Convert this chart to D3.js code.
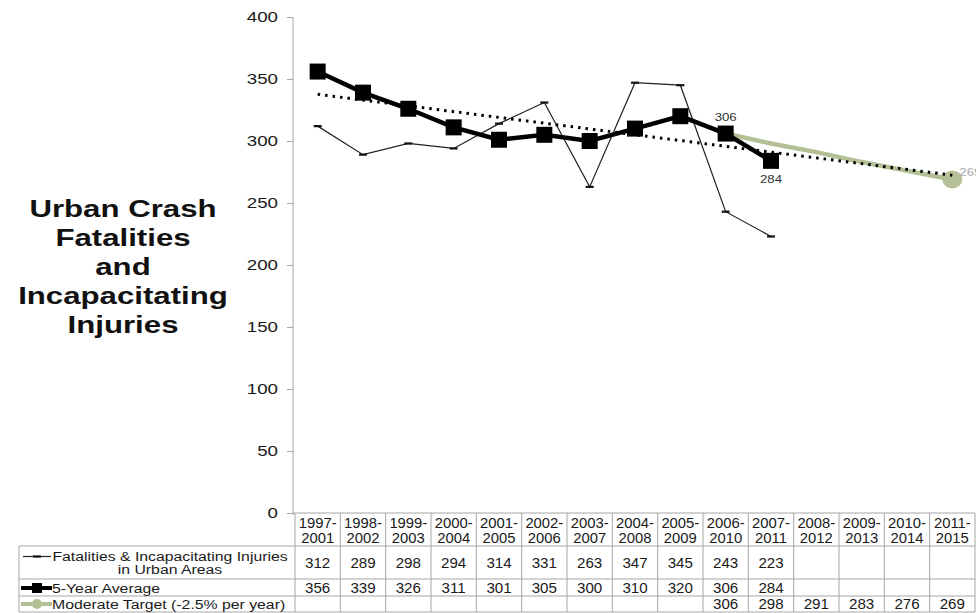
<!DOCTYPE html>
<html>
<head>
<meta charset="utf-8">
<script src="https://cdn.jsdelivr.net/npm/d3@7"></script>
<style>
  html, body { margin: 0; padding: 0; background: #fff; }
  svg { display: block; font-family: "Liberation Sans", Arial, Helvetica, sans-serif; }
</style>
</head>
<body>
<svg id="chart" width="976" height="613"></svg>
<script>
// Five-year periods shown along the bottom of the chart / table header
const periods = ["1997-2001","1998-2002","1999-2003","2000-2004","2001-2005","2002-2006",
  "2003-2007","2004-2008","2005-2009","2006-2010","2007-2011","2008-2012",
  "2009-2013","2010-2014","2011-2015"];

// Fatalities & incapacitating injuries in urban areas (annual counts)
const urbanValues = [312, 289, 298, 294, 314, 331, 263, 347, 345, 243, 223];
// 5-year average
const avgValues = [356, 339, 326, 311, 301, 305, 300, 310, 320, 306, 284];
// Moderate target (-2.5% per year), starting at 2006-2010
const targetStart = 9;
const targetValues = [306, 298, 291, 283, 276, 269];

const yTicks = [0, 50, 100, 150, 200, 250, 300, 350, 400];
const titleLines = ["Urban Crash", "Fatalities", "and", "Incapacitating", "Injuries"];

const svg = d3.select("#chart");

const x = d3.scaleBand().domain(periods).range([295, 975]);
const cx = p => x(p) + x.bandwidth() / 2;
const y = d3.scaleLinear().domain([0, 400]).range([513, 17]);

const green = "#b3bf95";
const gridGrey = "#a6a6a6";

// Text drawn with a slightly wide letterform (horizontal stretch)
function wideText(parent, px, py, str, opts = {}) {
  const sx = opts.sx || 1.1;
  return parent.append("text")
    .attr("transform", `translate(${px},${py}) scale(${sx},1)`)
    .attr("text-anchor", opts.anchor || "middle")
    .attr("font-size", opts.size || 14)
    .attr("font-weight", opts.weight || null)
    .attr("fill", opts.fill || "#1a1a1a")
    .text(str);
}

// Title on the left
titleLines.forEach((line, i) =>
  wideText(svg, 123, 217 + i * 29, line, { size: 24, weight: "bold", sx: 1.3, fill: "#111" }));

// Y axis
const yAxis = svg.append("g").attr("transform", "translate(293,0)")
  .call(d3.axisLeft(y).tickValues(yTicks).tickSize(6).tickFormat(d3.format("d")));
yAxis.select(".domain").attr("stroke", gridGrey).attr("d", "M-6,17.5H0V515");
yAxis.selectAll(".tick line").attr("stroke", gridGrey);
yAxis.selectAll(".tick text")
  .attr("x", -12).attr("transform", "scale(1.25,1)")
  .attr("font-size", 15).attr("fill", "#1a1a1a")
  .attr("font-family", "'Liberation Sans', Arial, sans-serif");

// Linear trend of the 5-year average, extended across all periods
const mx = d3.mean(avgValues, (d, i) => i);
const my = d3.mean(avgValues);
const slope = d3.sum(avgValues, (d, i) => (i - mx) * (d - my)) / d3.sum(avgValues, (d, i) => (i - mx) ** 2);
const trendAt = i => my + slope * (i - mx);
const lastIdx = periods.length - 1;

// Urban values: thin line with dash markers
const lineUrban = d3.line().x((d, i) => cx(periods[i])).y(d => y(d));
svg.append("path").datum(urbanValues)
  .attr("d", lineUrban).attr("fill", "none").attr("stroke", "#222").attr("stroke-width", 1.2);
svg.selectAll(".dash").data(urbanValues).join("line")
  .attr("x1", (d, i) => cx(periods[i]) - 4).attr("x2", (d, i) => cx(periods[i]) + 4)
  .attr("y1", d => y(d)).attr("y2", d => y(d))
  .attr("stroke", "#111").attr("stroke-width", 2.2);

// Target line
const lineTarget = d3.line().x((d, i) => cx(periods[targetStart + i])).y(d => y(d));
svg.append("path").datum(targetValues)
  .attr("d", lineTarget).attr("fill", "none").attr("stroke", green).attr("stroke-width", 4.5);

// 5-year average: thick line with square markers
const lineAvg = d3.line().x((d, i) => cx(periods[i])).y(d => y(d));
svg.append("path").datum(avgValues)
  .attr("d", lineAvg).attr("fill", "none").attr("stroke", "#000").attr("stroke-width", 4.5);
svg.selectAll(".sq").data(avgValues).join("rect")
  .attr("x", (d, i) => cx(periods[i]) - 8).attr("y", d => y(d) - 8)
  .attr("width", 16).attr("height", 16).attr("fill", "#000");

// Target end point marker
svg.append("ellipse")
  .attr("cx", cx(periods[lastIdx])).attr("cy", y(targetValues[targetValues.length - 1]))
  .attr("rx", 10).attr("ry", 9).attr("fill", green).attr("opacity", 0.95);

// Dotted trend line
svg.append("line")
  .attr("x1", cx(periods[0])).attr("y1", y(trendAt(0)))
  .attr("x2", cx(periods[lastIdx])).attr("y2", y(trendAt(lastIdx)))
  .attr("stroke", "#000").attr("stroke-width", 3)
  .attr("stroke-dasharray", "2.5,5");

// Value labels
wideText(svg, cx(periods[9]), y(avgValues[9]) - 13, avgValues[9], { size: 11, sx: 1.2, fill: "#333" });
wideText(svg, cx(periods[10]), y(avgValues[10]) + 22, avgValues[10], { size: 11, sx: 1.2, fill: "#333" });
wideText(svg, cx(periods[lastIdx]) + 7, y(targetValues[targetValues.length - 1]) - 3,
  targetValues[targetValues.length - 1], { size: 11, sx: 1.2, fill: "#aaa", anchor: "start" });

// Data table
const rowY = [513, 546, 579, 596, 612];
const leftX = 19;
const table = svg.append("g");
const tx = table.append("g").attr("stroke", gridGrey).attr("stroke-width", 1);

// horizontal rules
tx.append("line").attr("x1", 293).attr("x2", 975).attr("y1", rowY[0]).attr("y2", rowY[0]);
[1, 2, 3, 4].forEach(r => tx.append("line").attr("x1", leftX).attr("x2", 975).attr("y1", rowY[r]).attr("y2", rowY[r]));
// vertical rules
tx.append("line").attr("x1", leftX).attr("x2", leftX).attr("y1", rowY[1]).attr("y2", rowY[4]);
periods.forEach(p => tx.append("line").attr("x1", x(p)).attr("x2", x(p)).attr("y1", rowY[0]).attr("y2", rowY[4]));
tx.append("line").attr("x1", 975).attr("x2", 975).attr("y1", rowY[0]).attr("y2", rowY[4]);

// header
periods.forEach(p => {
  const [a, b] = p.split("-");
  wideText(table, cx(p), 528, a + "-", { sx: 1.06 });
  wideText(table, cx(p), 543, b, { sx: 1.06 });
});

// row values
urbanValues.forEach((v, i) => wideText(table, cx(periods[i]), 568, v, { sx: 1.08 }));
avgValues.forEach((v, i) => wideText(table, cx(periods[i]), 593, v, { sx: 1.08 }));
targetValues.forEach((v, i) => wideText(table, cx(periods[targetStart + i]), 609, v, { sx: 1.08 }));

// legend labels
wideText(table, 170, 561, "Fatalities & Incapacitating Injuries", { size: 13.5, sx: 1.17 });
wideText(table, 170, 574, "in Urban Areas", { size: 13.5, sx: 1.17 });
wideText(table, 52, 593, "5-Year Average", { size: 13.5, sx: 1.17, anchor: "start" });
wideText(table, 52, 609, "Moderate Target (-2.5% per year)", { size: 13.5, sx: 1.17, anchor: "start" });

// legend keys
table.append("line").attr("x1", 23).attr("x2", 51).attr("y1", 556.5).attr("y2", 556.5)
  .attr("stroke", "#222").attr("stroke-width", 1.2);
table.append("line").attr("x1", 33).attr("x2", 41).attr("y1", 556.5).attr("y2", 556.5)
  .attr("stroke", "#111").attr("stroke-width", 2.2);
table.append("line").attr("x1", 21).attr("x2", 52).attr("y1", 588).attr("y2", 588)
  .attr("stroke", "#000").attr("stroke-width", 4);
table.append("rect").attr("x", 32).attr("y", 583).attr("width", 10).attr("height", 10).attr("fill", "#000");
table.append("line").attr("x1", 21).attr("x2", 52).attr("y1", 604).attr("y2", 604)
  .attr("stroke", green).attr("stroke-width", 4);
table.append("circle").attr("cx", 37).attr("cy", 604).attr("r", 5).attr("fill", green);
</script>
</body>
</html>
